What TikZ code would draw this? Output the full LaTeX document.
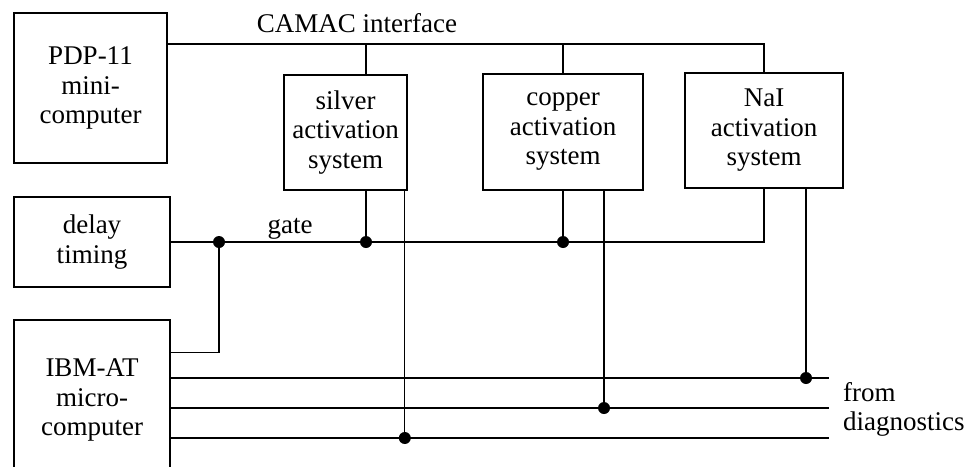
\documentclass[tikz,border=0pt]{standalone}
\usepackage{fontspec}
\setmainfont{Liberation Serif}
\usetikzlibrary{positioning,calc}

\newcommand{\labelfont}{\fontsize{27}{29.5}\selectfont}
\tikzset{
  unit/.style={draw,line width=1.6pt,align=center,inner sep=0pt,font=\labelfont},
  wire/.style={line width=1.1pt},
  tag/.style={font=\labelfont,inner sep=0pt}
}

\begin{document}
\begin{tikzpicture}[x=1pt,y=-1pt]
  \useasboundingbox (0,0) rectangle (973,466);
  \clip (0,0) rectangle (973,466);
  % computers on the left
  \node[unit,minimum width=153pt,minimum height=150pt] (pdp) at (90.5,88) {PDP-11\\mini-\\computer};
  \node[unit,minimum width=156pt,minimum height=90pt] (delay) at (92,242) {delay\\timing};
  \node[unit,minimum width=156pt,minimum height=160pt] (ibm) at (92,400) {IBM-AT\\micro-\\computer};
  % activation systems
  \node[unit,minimum width=123pt,minimum height=115pt] (silver) at (345.5,132.5) {silver\\activation\\system};
  \node[unit,minimum width=160pt,minimum height=116pt] (copper) at (563,132) {copper\\activation\\system};
  \node[unit,minimum width=158pt,minimum height=115pt] (nai) at (764,130.5) {NaI\\activation\\system};

  % CAMAC bus
  \coordinate (camac) at (nai.north |- 0,44);
  \draw[wire] (camac -| pdp.east) -- (camac) -- (nai.north);
  \draw[wire] ([xshift=20.5pt]silver.north) -- ([xshift=20.5pt]silver.north |- camac);
  \draw[wire] (copper.north) -- (copper.north |- camac);
  \node[tag,anchor=base] (camaclabel) at (357,32) {CAMAC interface};

  % gate line
  \coordinate (split) at (219,242);
  \draw[wire] (delay.east) -| (nai.south);
  \draw[wire] (split) |- ([yshift=-33pt]ibm.north east);
  \draw[wire] ([xshift=20.5pt]silver.south) -- ([xshift=20.5pt]silver.south |- split);
  \draw[wire] (copper.south) -- (copper.south |- split);
  \fill (split) circle (6pt);
  \fill ([xshift=20.5pt]silver.south |- split) circle (6pt);
  \fill (copper.south |- split) circle (6pt);
  \node[tag,anchor=base] (gatelabel) at (290,233) {gate};

  % lines from the diagnostics
  \coordinate (diag1) at (829,378);
  \coordinate (diag2) at (829,408);
  \coordinate (diag3) at (829,438);
  \foreach \k in {1,2,3}
    \draw[wire] (diag\k -| ibm.east) -- (diag\k);
  \draw[wire] ([xshift=-3pt]silver.south east) -- ([xshift=-3pt]silver.south east |- diag3);
  \draw[wire] ([xshift=41pt]copper.south) -- ([xshift=41pt]copper.south |- diag2);
  \draw[wire] ([xshift=42pt]nai.south) -- ([xshift=42pt]nai.south |- diag1);
  \fill ([xshift=-3pt]silver.south east |- diag3) circle (6pt);
  \fill ([xshift=41pt]copper.south |- diag2) circle (6pt);
  \fill ([xshift=42pt]nai.south |- diag1) circle (6pt);
  \node[tag,align=left,anchor=west] (diaglabel) at (843,409.5) {from\\diagnostics};
\end{tikzpicture}
\end{document}
